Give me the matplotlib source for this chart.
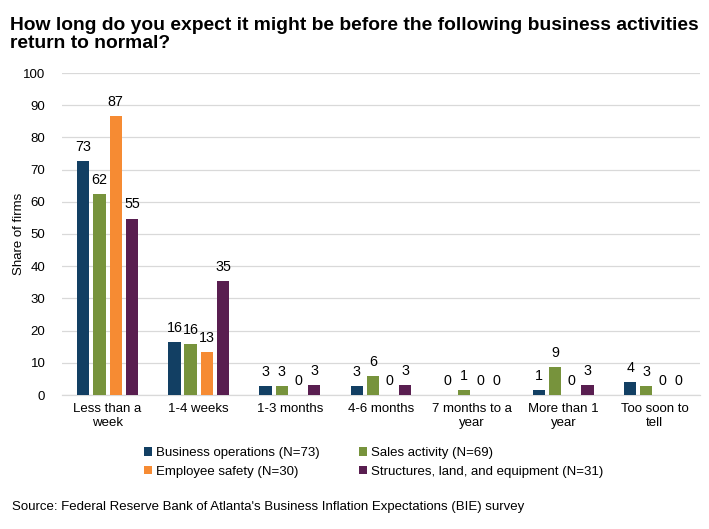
import matplotlib
matplotlib.use("Agg")
import matplotlib.pyplot as plt
import numpy as np

plt.rcParams['font.family'] = ['Liberation Sans', 'DejaVu Sans']

categories = ["Less than a\nweek", "1-4 weeks", "1-3 months", "4-6 months",
              "7 months to a\nyear", "More than 1\nyear", "Too soon to\ntell"]
series_names = ["Business operations (N=73)", "Sales activity (N=69)",
                "Employee safety (N=30)", "Structures, land, and equipment (N=31)"]
business_ops = [72.6, 16.4, 2.7, 2.7, 0.0, 1.4, 4.1]
sales_activity = [62.3, 15.9, 2.9, 5.8, 1.4, 8.7, 2.9]
employee_safety = [86.7, 13.3, 0.0, 0.0, 0.0, 0.0, 0.0]
structures = [54.8, 35.48, 3.2, 3.2, 0.0, 3.2, 0.0]
colors = ["#123F63", "#77933C", "#F68B33", "#591E50"]
yticks = [0, 10, 20, 30, 40, 50, 60, 70, 80, 90, 100]

data = [business_ops, sales_activity, employee_safety, structures]

fig = plt.figure(figsize=(7.09, 5.29), dpi=100)
ax = fig.add_axes([62/709, 1-395/529, 638/709, (395-73)/529])

x = np.arange(len(categories))
w = 0.135
step = 0.178
offsets = [-1.5*step, -0.5*step, 0.5*step, 1.5*step]
for vals, c, off, name in zip(data, colors, offsets, series_names):
    ax.bar(x + off, vals, width=w, color=c, label=name, zorder=3)
    for xi, v in zip(x + off, vals):
        ax.text(xi, v + 2.2, f"{v:.0f}", ha='center', va='bottom', fontsize=10.3, color='#000000')

ax.set_xlim(-0.5, len(categories) - 0.5)
ax.set_ylim(0, 100)
ax.set_yticks(yticks)
ax.set_yticklabels([str(t) for t in yticks], fontsize=9.5)
ax.set_xticks(x)
ax.set_xticklabels(categories, fontsize=9.5)
ax.tick_params(axis='both', length=0, pad=6)
ax.tick_params(axis='y', pad=12)
ax.grid(axis='y', color='#D9D9D9', linewidth=0.9, zorder=0)
for s in ['top', 'right', 'left']:
    ax.spines[s].set_visible(False)
ax.spines['bottom'].set_color('#D9D9D9')
ax.spines['bottom'].set_linewidth(0.9)
ax.set_ylabel("Share of firms", fontsize=9.5, va='center')
ax.yaxis.set_label_coords(-(62-19)/638, 0.5)

fig.text(10/709, 1-17/529, "How long do you expect it might be before the following business activities\nreturn to normal?",
         fontsize=13.9, fontweight='bold', ha='left', va='top', linespacing=1.1)

handles, labels = ax.get_legend_handles_labels()
order = [0, 2, 1, 3]
leg = fig.legend([handles[i] for i in order], [labels[i] for i in order],
                 loc='upper left', bbox_to_anchor=(139/709, 1-442/529), ncol=2,
                 frameon=False, fontsize=9.5, handlelength=0.6, handleheight=0.6,
                 handletextpad=0.3, columnspacing=3.0, labelspacing=0.5, borderaxespad=0)

fig.text(12/709, 1-507/529, "Source: Federal Reserve Bank of Atlanta's Business Inflation Expectations (BIE) survey",
         fontsize=9.5, ha='left', va='center')

fig.savefig("out.png", dpi=100)
